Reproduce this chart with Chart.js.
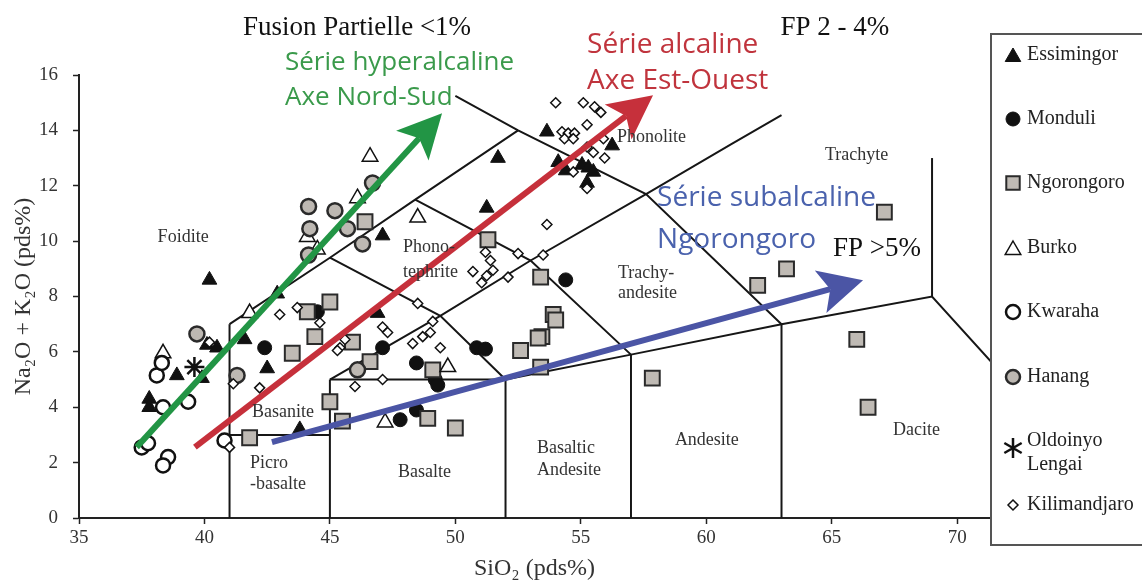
<!DOCTYPE html>
<html lang="fr">
<head>
<meta charset="utf-8">
<title>Diagramme TAS</title>
<script src="https://cdn.jsdelivr.net/npm/chart.js@4.4.1/dist/chart.umd.min.js"></script>
<style>
  html, body { margin: 0; padding: 0; background: #fff; }
  #tas { display: block; }
</style>
</head>
<body>
<canvas id="tas" width="1142" height="582"></canvas>
<script>
// --- Données : [SiO2, Na2O + K2O] en pds% ---
const essimingor = [[40.2, 8.6], [37.8, 4.3], [37.8, 4.0], [38.9, 5.15], [39.9, 5.05], [40.1, 6.25], [40.5, 6.15],
  [41.6, 6.45], [42.5, 5.4], [42.9, 8.1], [43.8, 3.2], [46.9, 7.4], [47.1, 10.2], [51.25, 11.2], [51.7, 13.0],
  [53.65, 13.95], [56.25, 13.45], [54.1, 12.85], [54.4, 12.55], [55.05, 12.75], [55.3, 12.65], [55.5, 12.5], [55.25, 12.1]];
const monduli = [[42.4, 6.15], [44.5, 7.45], [47.1, 6.15], [48.45, 5.6], [49.2, 5.0], [49.3, 4.8], [48.45, 3.9],
  [47.8, 3.55], [50.85, 6.15], [51.2, 6.1], [54.4, 8.6]];
const ngorongoro = [[41.8, 2.9], [44.1, 7.45], [45.0, 7.8], [44.4, 6.55], [43.5, 5.95], [45.9, 6.35], [46.6, 5.65],
  [45.0, 4.2], [45.5, 3.5], [49.1, 5.35], [48.9, 3.6], [50.0, 3.25], [52.6, 6.05], [46.4, 10.7], [51.3, 10.05],
  [53.4, 8.7], [53.9, 7.35], [54.0, 7.15], [53.45, 6.55], [53.3, 6.5], [53.4, 5.45], [57.85, 5.05], [62.05, 8.4],
  [63.2, 9.0], [67.1, 11.05], [66.0, 6.45], [66.45, 4.0]];
const burko = [[38.35, 5.95], [46.6, 13.05], [46.1, 11.55], [44.1, 10.15], [44.5, 9.7], [48.5, 10.85], [41.8, 7.4],
  [47.2, 3.45], [49.7, 5.45]];
const kwaraha = [[37.5, 2.55], [37.75, 2.7], [38.55, 2.2], [38.35, 1.9], [39.35, 4.2], [38.35, 4.0], [38.1, 5.15],
  [38.3, 5.6], [40.8, 2.8]];
const hanang = [[39.7, 6.65], [41.3, 5.15], [46.7, 12.1], [44.15, 11.25], [45.2, 11.1], [44.2, 10.45], [45.7, 10.45],
  [46.3, 9.9], [44.15, 9.5], [46.1, 5.35]];
const oldoinyoLengai = [[39.6, 5.45]];
const kilimandjaro = [[40.2, 6.35], [41.0, 2.55], [41.15, 4.85], [43.0, 7.35], [43.7, 7.6], [44.6, 7.05], [42.2, 4.7],
  [45.4, 6.15], [45.6, 6.45], [46.0, 4.75], [47.1, 5.0], [47.1, 6.9], [47.3, 6.7], [48.3, 6.3], [48.7, 6.55],
  [49.0, 6.7], [49.1, 7.1], [49.4, 6.15], [48.5, 7.75], [45.3, 6.05], [54.0, 15.0], [55.1, 15.0], [55.55, 14.85],
  [55.8, 14.65], [55.25, 14.2], [54.25, 13.95], [54.5, 13.9], [54.75, 13.9], [54.35, 13.7], [54.7, 13.7],
  [55.9, 13.7], [55.25, 13.4], [55.5, 13.2], [55.95, 13.0], [54.7, 12.5], [55.25, 11.9], [53.65, 10.6],
  [51.2, 9.6], [51.4, 9.3], [50.7, 8.9], [51.5, 8.95], [51.25, 8.75], [51.05, 8.5], [52.1, 8.7], [52.5, 9.55], [53.5, 9.5]];

// Limites des champs (Le Bas et al. 1986)
const champs = [
  [[41, 0], [41, 7]],
  [[41, 3], [45, 3]],
  [[45, 0], [45, 5]],
  [[45, 5], [52, 5]],
  [[52, 0], [52, 5]],
  [[52, 5], [57, 5.9], [63, 7], [69, 8], [77, 0]],
  [[57, 0], [57, 5.9]],
  [[63, 0], [63, 7]],
  [[69, 8], [69, 13]],
  [[41, 7], [45, 9.4], [48.4, 11.5], [52.5, 14]],
  [[45, 9.4], [49.4, 7.3], [52, 5]],
  [[45, 5], [49.4, 7.3], [53, 9.3], [57.6, 11.7], [61, 13.5], [63, 14.55]],
  [[48.4, 11.5], [53, 9.3], [57, 5.9]],
  [[50, 15.25], [52.5, 14], [57.6, 11.7], [63, 7]]
];

// Flèches des séries : [départ, pointe]
const flecheHyper = [[37.3, 2.56], [49.47, 14.62]];
const flecheAlcaline = [[39.62, 2.56], [57.88, 15.27]];
const flecheSubalcaline = [[42.69, 2.74], [66.25, 8.59]];

const xTicks = [35, 40, 45, 50, 55, 60, 65, 70];
const yTicks = [0, 2, 4, 6, 8, 10, 12, 14, 16];

// ----------------------------------------------------

const toXY = arr => arr.map(p => ({ x: p[0], y: p[1] }));

const series = [
  { label: 'Essimingor', data: essimingor, style: 'triangle', r: 8.5, bg: '#111', bd: '#111', bw: 1 },
  { label: 'Monduli', data: monduli, style: 'circle', r: 7, bg: '#111', bd: '#111', bw: 1 },
  { label: 'Ngorongoro', data: ngorongoro, style: 'rect', r: 10.5, bg: '#bfbab4', bd: '#2a2a2a', bw: 2 },
  { label: 'Burko', data: burko, style: 'triangle', r: 9, bg: '#fff', bd: '#111', bw: 1.5 },
  { label: 'Kwaraha', data: kwaraha, style: 'circle', r: 7, bg: '#fff', bd: '#111', bw: 2.5 },
  { label: 'Hanang', data: hanang, style: 'circle', r: 7.5, bg: '#bdb8b2', bd: '#2a2a2a', bw: 2.5 },
  { label: 'Oldoinyo Lengai', data: oldoinyoLengai, style: 'star', r: 10, bg: '#111', bd: '#111', bw: 2.5 },
  { label: 'Kilimandjaro', data: kilimandjaro, style: 'rectRot', r: 5, bg: '#fff', bd: '#111', bw: 1.5 }
];

const datasets = [];
champs.forEach(c => datasets.push({
  type: 'line', data: toXY(c), borderColor: '#161616', borderWidth: 2, pointRadius: 0,
  fill: false, tension: 0, order: 20
}));
series.forEach((s, i) => datasets.push({
  label: s.label, data: toXY(s.data), pointStyle: s.style, pointRadius: s.r,
  backgroundColor: s.bg, borderColor: s.bd, pointBorderWidth: s.bw, borderWidth: s.bw,
  showLine: false, order: 10 - i
}));

const serif = 'Liberation Serif, Times New Roman, serif';
const sans = 'Open Sans, Noto Sans, sans-serif';

// Textes posés en coordonnées du graphique
const textes = [
  { t: 'Fusion Partielle <1%', x: 46.08, y: 17.69, font: '27px ' + serif, c: '#111', a: 'center' },
  { t: 'FP 2 - 4%', x: 65.13, y: 17.69, font: '27px ' + serif, c: '#111', a: 'center' },
  { t: 'Série hyperalcaline', x: 43.21, y: 16.46, font: '26px ' + sans, c: '#3a9a4b', a: 'left' },
  { t: 'Axe Nord-Sud', x: 43.21, y: 15.2, font: '26px ' + sans, c: '#3a9a4b', a: 'left' },
  { t: 'Série alcaline', x: 55.25, y: 17.08, font: '28px ' + sans, c: '#c0343d', a: 'left' },
  { t: 'Axe Est-Ouest', x: 55.25, y: 15.78, font: '28px ' + sans, c: '#c0343d', a: 'left' },
  { t: 'Série subalcaline', x: 58.04, y: 11.55, font: '28px ' + sans, c: '#4a62ad', a: 'left' },
  { t: 'Ngorongoro', x: 58.04, y: 10.04, font: '28px ' + sans, c: '#4a62ad', a: 'left' },
  { t: 'FP >5%', x: 65.05, y: 9.71, font: '27px ' + serif, c: '#111', a: 'left' },
  { t: 'Foidite', x: 39.15, y: 10.14, font: '18px ' + serif, c: '#333', a: 'center' },
  { t: 'Phono-', x: 47.91, y: 9.78, font: '18px ' + serif, c: '#333', a: 'left' },
  { t: 'tephrite', x: 47.91, y: 8.88, font: '18px ' + serif, c: '#333', a: 'left' },
  { t: 'Phonolite', x: 56.44, y: 13.75, font: '18px ' + serif, c: '#333', a: 'left' },
  { t: 'Trachyte', x: 64.73, y: 13.1, font: '18px ' + serif, c: '#333', a: 'left' },
  { t: 'Trachy-', x: 56.48, y: 8.84, font: '18px ' + serif, c: '#333', a: 'left' },
  { t: 'andesite', x: 56.48, y: 8.12, font: '18px ' + serif, c: '#333', a: 'left' },
  { t: 'Basanite', x: 41.9, y: 3.83, font: '18px ' + serif, c: '#333', a: 'left' },
  { t: 'Picro', x: 41.82, y: 1.99, font: '18px ' + serif, c: '#333', a: 'left' },
  { t: '-basalte', x: 41.82, y: 1.23, font: '18px ' + serif, c: '#333', a: 'left' },
  { t: 'Basalte', x: 47.71, y: 1.66, font: '18px ' + serif, c: '#333', a: 'left' },
  { t: 'Basaltic', x: 53.25, y: 2.53, font: '18px ' + serif, c: '#333', a: 'left' },
  { t: 'Andesite', x: 53.25, y: 1.73, font: '18px ' + serif, c: '#333', a: 'left' },
  { t: 'Andesite', x: 58.75, y: 2.82, font: '18px ' + serif, c: '#333', a: 'left' },
  { t: 'Dacite', x: 67.44, y: 3.18, font: '18px ' + serif, c: '#333', a: 'left' }
];

const fleches = [
  { p: flecheHyper, c: '#229545' },
  { p: flecheAlcaline, c: '#c6303b' },
  { p: flecheSubalcaline, c: '#4b55a5' }
];

function dessinePoint(ctx, style, x, y, r) {
  ctx.beginPath();
  if (style === 'circle') {
    ctx.arc(x, y, r, 0, Math.PI * 2);
  } else if (style === 'triangle') {
    ctx.moveTo(x, y - r);
    ctx.lineTo(x + r * 0.866, y + r * 0.5);
    ctx.lineTo(x - r * 0.866, y + r * 0.5);
    ctx.closePath();
  } else if (style === 'rect') {
    const h = r * Math.SQRT1_2;
    ctx.rect(x - h, y - h, 2 * h, 2 * h);
  } else if (style === 'rectRot') {
    ctx.moveTo(x, y - r); ctx.lineTo(x + r, y); ctx.lineTo(x, y + r); ctx.lineTo(x - r, y);
    ctx.closePath();
  } else if (style === 'star') {
    for (let k = 0; k < 3; k++) {
      const a = Math.PI / 2 + k * Math.PI / 3;
      ctx.moveTo(x + Math.cos(a) * r, y + Math.sin(a) * r);
      ctx.lineTo(x - Math.cos(a) * r, y - Math.sin(a) * r);
    }
    ctx.stroke();
    return;
  }
  ctx.fill();
  ctx.stroke();
}

const decor = {
  id: 'decor',
  afterDatasetsDraw(chart) {
    const { ctx, scales: { x, y } } = chart;
    ctx.save();
    // flèches
    fleches.forEach(f => {
      const x0 = x.getPixelForValue(f.p[0][0]), y0 = y.getPixelForValue(f.p[0][1]);
      const x1 = x.getPixelForValue(f.p[1][0]), y1 = y.getPixelForValue(f.p[1][1]);
      const ang = Math.atan2(y1 - y0, x1 - x0);
      const L = 44, W = 22, notch = 10;
      const ux = Math.cos(ang), uy = Math.sin(ang);
      ctx.strokeStyle = f.c; ctx.fillStyle = f.c; ctx.lineWidth = 6; ctx.lineCap = 'butt';
      ctx.beginPath();
      ctx.moveTo(x0, y0);
      ctx.lineTo(x1 - ux * (L - notch), y1 - uy * (L - notch));
      ctx.stroke();
      const bx = x1 - ux * L, by = y1 - uy * L;
      ctx.beginPath();
      ctx.moveTo(x1, y1);
      ctx.lineTo(bx - uy * W, by + ux * W);
      ctx.lineTo(x1 - ux * (L - notch), y1 - uy * (L - notch));
      ctx.lineTo(bx + uy * W, by - ux * W);
      ctx.closePath();
      ctx.fill();
    });
    // textes
    ctx.textBaseline = 'middle';
    textes.forEach(t => {
      ctx.font = t.font; ctx.fillStyle = t.c; ctx.textAlign = t.a;
      ctx.fillText(t.t, x.getPixelForValue(t.x), y.getPixelForValue(t.y));
    });
    ctx.restore();
  },
  afterDraw(chart) {
    // légende encadrée à droite
    const ctx = chart.ctx;
    ctx.save();
    ctx.strokeStyle = '#555'; ctx.lineWidth = 2;
    ctx.strokeRect(991, 34, 160, 511);
    const ys = [55, 119, 183, 248, 312, 377, 448, 505];
    ctx.font = '20px ' + serif; ctx.textBaseline = 'middle'; ctx.textAlign = 'left';
    series.forEach((s, i) => {
      ctx.fillStyle = s.bg; ctx.strokeStyle = s.bd; ctx.lineWidth = s.bw;
      const r = { triangle: 9, circle: 7, rect: 9.5, rectRot: 5, star: 10 }[s.style];
      dessinePoint(ctx, s.style, 1013, ys[i] + (s.style === 'triangle' ? 2 : 0), r);
      ctx.fillStyle = '#222';
      if (s.label === 'Oldoinyo Lengai') {
        ctx.fillText('Oldoinyo', 1027, 441);
        ctx.fillText('Lengai', 1027, 465);
      } else {
        ctx.fillText(s.label, 1027, ys[i]);
      }
    });
    ctx.restore();
  }
};

new Chart(document.getElementById('tas').getContext('2d'), {
  type: 'scatter',
  data: { datasets },
  options: {
    responsive: false,
    animation: false,
    layout: { padding: { top: 75, right: 152, left: 0, bottom: 0 } },
    plugins: { legend: { display: false }, tooltip: { enabled: false } },
    scales: {
      x: {
        type: 'linear', min: 35, max: 71.31,
        afterFit(s) { s.height = 64; },
        afterBuildTicks(s) { s.ticks = xTicks.map(v => ({ value: v })); },
        ticks: { color: '#333', font: { family: serif, size: 19 }, padding: 3, maxRotation: 0 },
        grid: { drawOnChartArea: false, tickLength: 6, tickColor: '#222', tickWidth: 1.5 },
        border: { color: '#222', width: 2 },
        title: { display: true, text: 'SiO₂ (pds%)', color: '#333', font: { family: serif, size: 24 }, padding: { top: 0, bottom: -1 } }
      },
      y: {
        type: 'linear', min: 0, max: 16,
        afterFit(s) { s.width = 79; },
        afterBuildTicks(s) { s.ticks = yTicks.map(v => ({ value: v })); },
        ticks: { color: '#333', font: { family: serif, size: 19 }, padding: 15 },
        grid: { drawOnChartArea: false, tickLength: 6, tickColor: '#222', tickWidth: 1.5 },
        border: { color: '#222', width: 2 },
        title: { display: true, text: 'Na₂O + K₂O (pds%)', color: '#333', font: { family: serif, size: 24 }, padding: { top: 9, bottom: 0 } }
      }
    }
  },
  plugins: [decor]
});
</script>
</body>
</html>
